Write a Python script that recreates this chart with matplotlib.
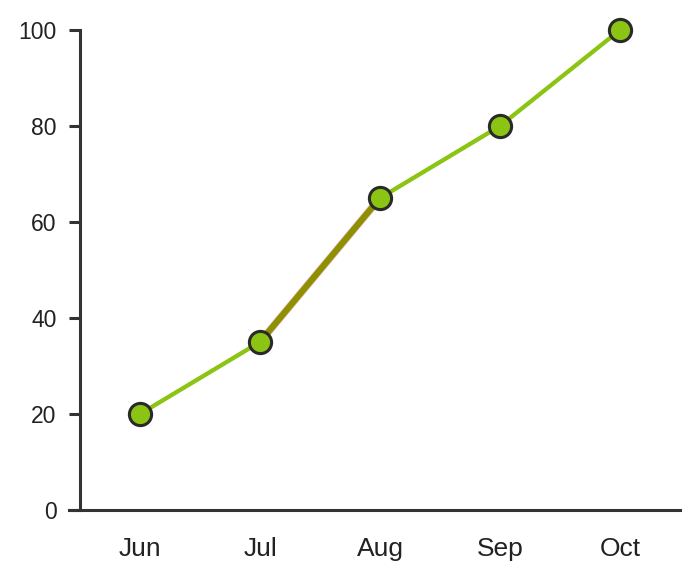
import matplotlib
matplotlib.use("Agg")
import matplotlib.pyplot as plt

months = ["Jun", "Jul", "Aug", "Sep", "Oct"]
values = [20, 35, 65, 80, 100]
highlight = [1, 2]  # indices of highlighted segment (Jul-Aug)
yticks = [0, 20, 40, 60, 80, 100]

plt.rcParams['font.family'] = ['Liberation Sans', 'DejaVu Sans']

fig = plt.figure(figsize=(7, 5.8), dpi=100)
ax = fig.add_axes([80/700, 1-510/580, 600/700, 480/580])

x = list(range(len(months)))
ax.plot(x, values, color='#8cc414', lw=3.1, zorder=2, solid_capstyle='butt', clip_on=False)
hx = [x[i] for i in highlight]
hy = [values[i] for i in highlight]
ax.plot(hx, hy, color='#e8b0c0', lw=5.6, alpha=0.7, zorder=3, solid_capstyle='butt')
ax.plot(hx, hy, color='#8f9000', lw=4.5, zorder=4, solid_capstyle='butt')
ax.plot(x, values, ls='none', marker='o', markersize=16, markerfacecolor='#8cc414',
        markeredgecolor='#2a2a2a', markeredgewidth=2.2, zorder=5, clip_on=False)

ax.set_xlim(-0.5, len(months)-0.5)
ax.set_ylim(0, 100)
ax.set_xticks(x)
ax.set_xticklabels(months)
ax.set_yticks(yticks)
ax.set_yticklabels([str(v) for v in yticks])

for s in ['top', 'right']:
    ax.spines[s].set_visible(False)
for s in ['left', 'bottom']:
    ax.spines[s].set_color('#333333')
    ax.spines[s].set_linewidth(2.2)
ax.spines['bottom'].set_bounds(-0.5 - 11/120, len(months)-0.5)

ax.tick_params(axis='y', length=8, width=2.2, color='#333333', pad=9, labelsize=16.5, labelcolor='#222222')
ax.tick_params(axis='x', length=0, pad=19.5, labelsize=19, labelcolor='#222222')

for sp in ax.spines.values():
    sp.set_clip_on(False)

fig.savefig('out.png', dpi=100)
